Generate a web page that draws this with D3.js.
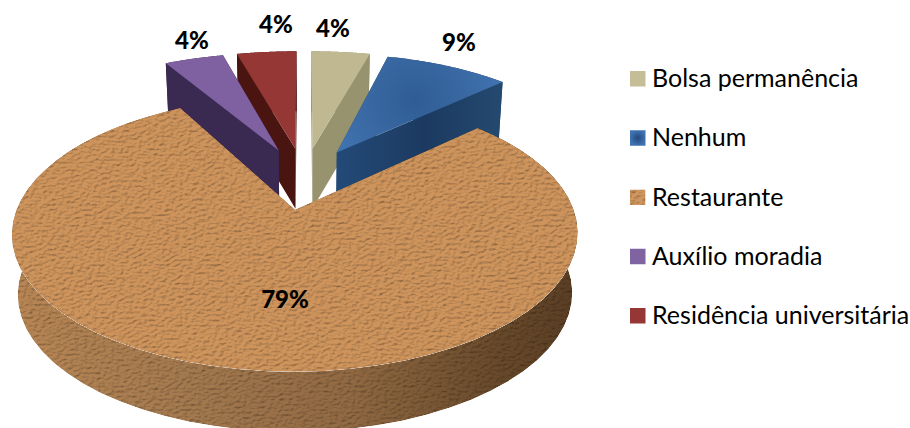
<!DOCTYPE html>
<html><head><meta charset="utf-8">
<script src="https://cdn.jsdelivr.net/npm/d3@7"></script>
<style>html,body{margin:0;padding:0;background:#fff}svg{display:block}</style>
</head><body><svg id="c" width="910" height="428"></svg>
<script>
const categories=["Bolsa permanência","Nenhum","Restaurante","Auxílio moradia","Residência universitária"];
const values=[4,9,79,4,4];
const labels=["4%","9%","79%","4%","4%"];
const topColors=["#bfb890","url(#gBlue)","#c48d58","#7f60a0","#953735"];
const wallColors=["#97936f","url(#gBlueW)","url(#gCork)","#3a2a52","#4a1510"];
const labelPos=[[333,37],[459,51],[285,308],[192,49],[276,33]];
const drawOrder=[4,0,3,1,2];
const sliceStretch=[1.06,1,1,1.07,1.08];
const sliceShift=[0,0,2,0,0];

const W=910,H=428,cx=304,cy=178,Rx=267,Ry=122.8,k=0.168,explode=0.25,depth=60,taper=0.98;
const svg=d3.select("#c");
const defs=svg.append("defs");
function grad(id,stops,attrs,type){const g=defs.append(type||"linearGradient").attr("id",id);
  Object.entries(attrs).forEach(([a,b])=>g.attr(a,b));
  stops.forEach(([o,c])=>g.append("stop").attr("offset",o).attr("stop-color",c));}
grad("gBlue",[[0,"#2f5c94"],[.55,"#3a69a3"],[1,"#4175b3"]],{gradientUnits:"userSpaceOnUse",cx:415,cy:100,r:95},"radialGradient");
grad("gBlueW",[[0,"#234a78"],[.55,"#1c3a60"],[1,"#24496f"]],{gradientUnits:"userSpaceOnUse",x1:336,x2:500,y1:0,y2:0});
grad("gCork",[[0,"#b08050"],[.3,"#9c744b"],[.6,"#8a643f"],[.85,"#644729"],[1,"#563b22"]],{gradientUnits:"userSpaceOnUse",x1:13,x2:578,y1:0,y2:0});
grad("gLegBlue",[[0,"#24497a"],[1,"#3f73b2"]],{},"radialGradient");

const f=defs.append("filter").attr("id","cork").attr("x",0).attr("y",0).attr("width",1).attr("height",1)
  .attr("color-interpolation-filters","sRGB");
f.append("feTurbulence").attr("type","fractalNoise").attr("baseFrequency","0.22 0.38").attr("numOctaves",3).attr("seed",7).attr("result","n");
f.append("feDiffuseLighting").attr("in","n").attr("surfaceScale",0.9).attr("diffuseConstant",1.1).attr("lighting-color","#fff").attr("result","l")
  .append("feDistantLight").attr("azimuth",235).attr("elevation",62);
f.append("feComposite").attr("in","SourceGraphic").attr("in2","l").attr("operator","arithmetic").attr("k1",1.05).attr("k2",0).attr("k3",0).attr("k4",0).attr("result","m");
f.append("feComposite").attr("in","m").attr("in2","SourceGraphic").attr("operator","in");

const arcs=d3.pie().sort(null).value(d=>d)(values);
function project(X,Y,z,i){const w=1-k*Y;let x=Rx*sliceStretch[i]*X/w,y=cy+Ry*Y/w;
  if(z){x*=taper;y+=depth;}return [cx+sliceShift[i]+x,y];}
function world(a,r,off){return [r*Math.sin(a)+off[0],-r*Math.cos(a)+off[1]];}
const line=d3.line();
const samples=(a,b)=>d3.range(0,61).map(i=>a+(b-a)*i/60);

arcs.forEach(d=>{const m=(d.startAngle+d.endAngle)/2;d.off=[explode*Math.sin(m),-explode*Math.cos(m)];});
const mainIdx=values.indexOf(d3.max(values));

drawOrder.forEach(i=>{
  const d=arcs[i],g=svg.append("g"),off=d.off;
  const rim=samples(d.startAngle,d.endAngle).map(a=>world(a,1,off));
  const apex=off;
  const P=(p,z)=>project(p[0],p[1],z,i);
  const isCork=i===mainIdx;
  const wall=pts=>{const el=g.append("path").attr("d",line(pts)+"Z").attr("fill",wallColors[i]);
    if(isCork)el.attr("filter","url(#cork)");};
  wall([P(apex,0),P(rim[0],0),P(rim[0],1),P(apex,1)]);
  wall([P(apex,0),P(rim[60],0),P(rim[60],1),P(apex,1)]);
  wall(rim.map(p=>P(p,0)).concat(rim.slice().reverse().map(p=>P(p,1))));
  const top=g.append("path").attr("d",line([P(apex,0)].concat(rim.map(p=>P(p,0))))+"Z").attr("fill",topColors[i]);
  if(isCork)top.attr("filter","url(#cork)");
});

labels.forEach((t,i)=>svg.append("text").attr("x",labelPos[i][0]).attr("y",labelPos[i][1])
  .attr("text-anchor","middle").attr("font-family","Lato").attr("font-weight",900).attr("font-size",24).attr("fill","#000").text(t));

const legendY=d3.scalePoint().domain(categories).range([87,324]);
const legendFill=["#c4bd97","url(#gLegBlue)","#c68f5a","#8064a2","#953735"];
categories.forEach((c,i)=>{
  const y=legendY(c);
  const s=svg.append("rect").attr("x",630).attr("y",y-16).attr("width",15.5).attr("height",15.5).attr("fill",legendFill[i]);
  if(i===mainIdx)s.attr("filter","url(#cork)");
  svg.append("text").attr("x",652).attr("y",y).attr("font-family","Lato").attr("font-size",25).attr("fill","#000").text(c);
});
</script></body></html>
